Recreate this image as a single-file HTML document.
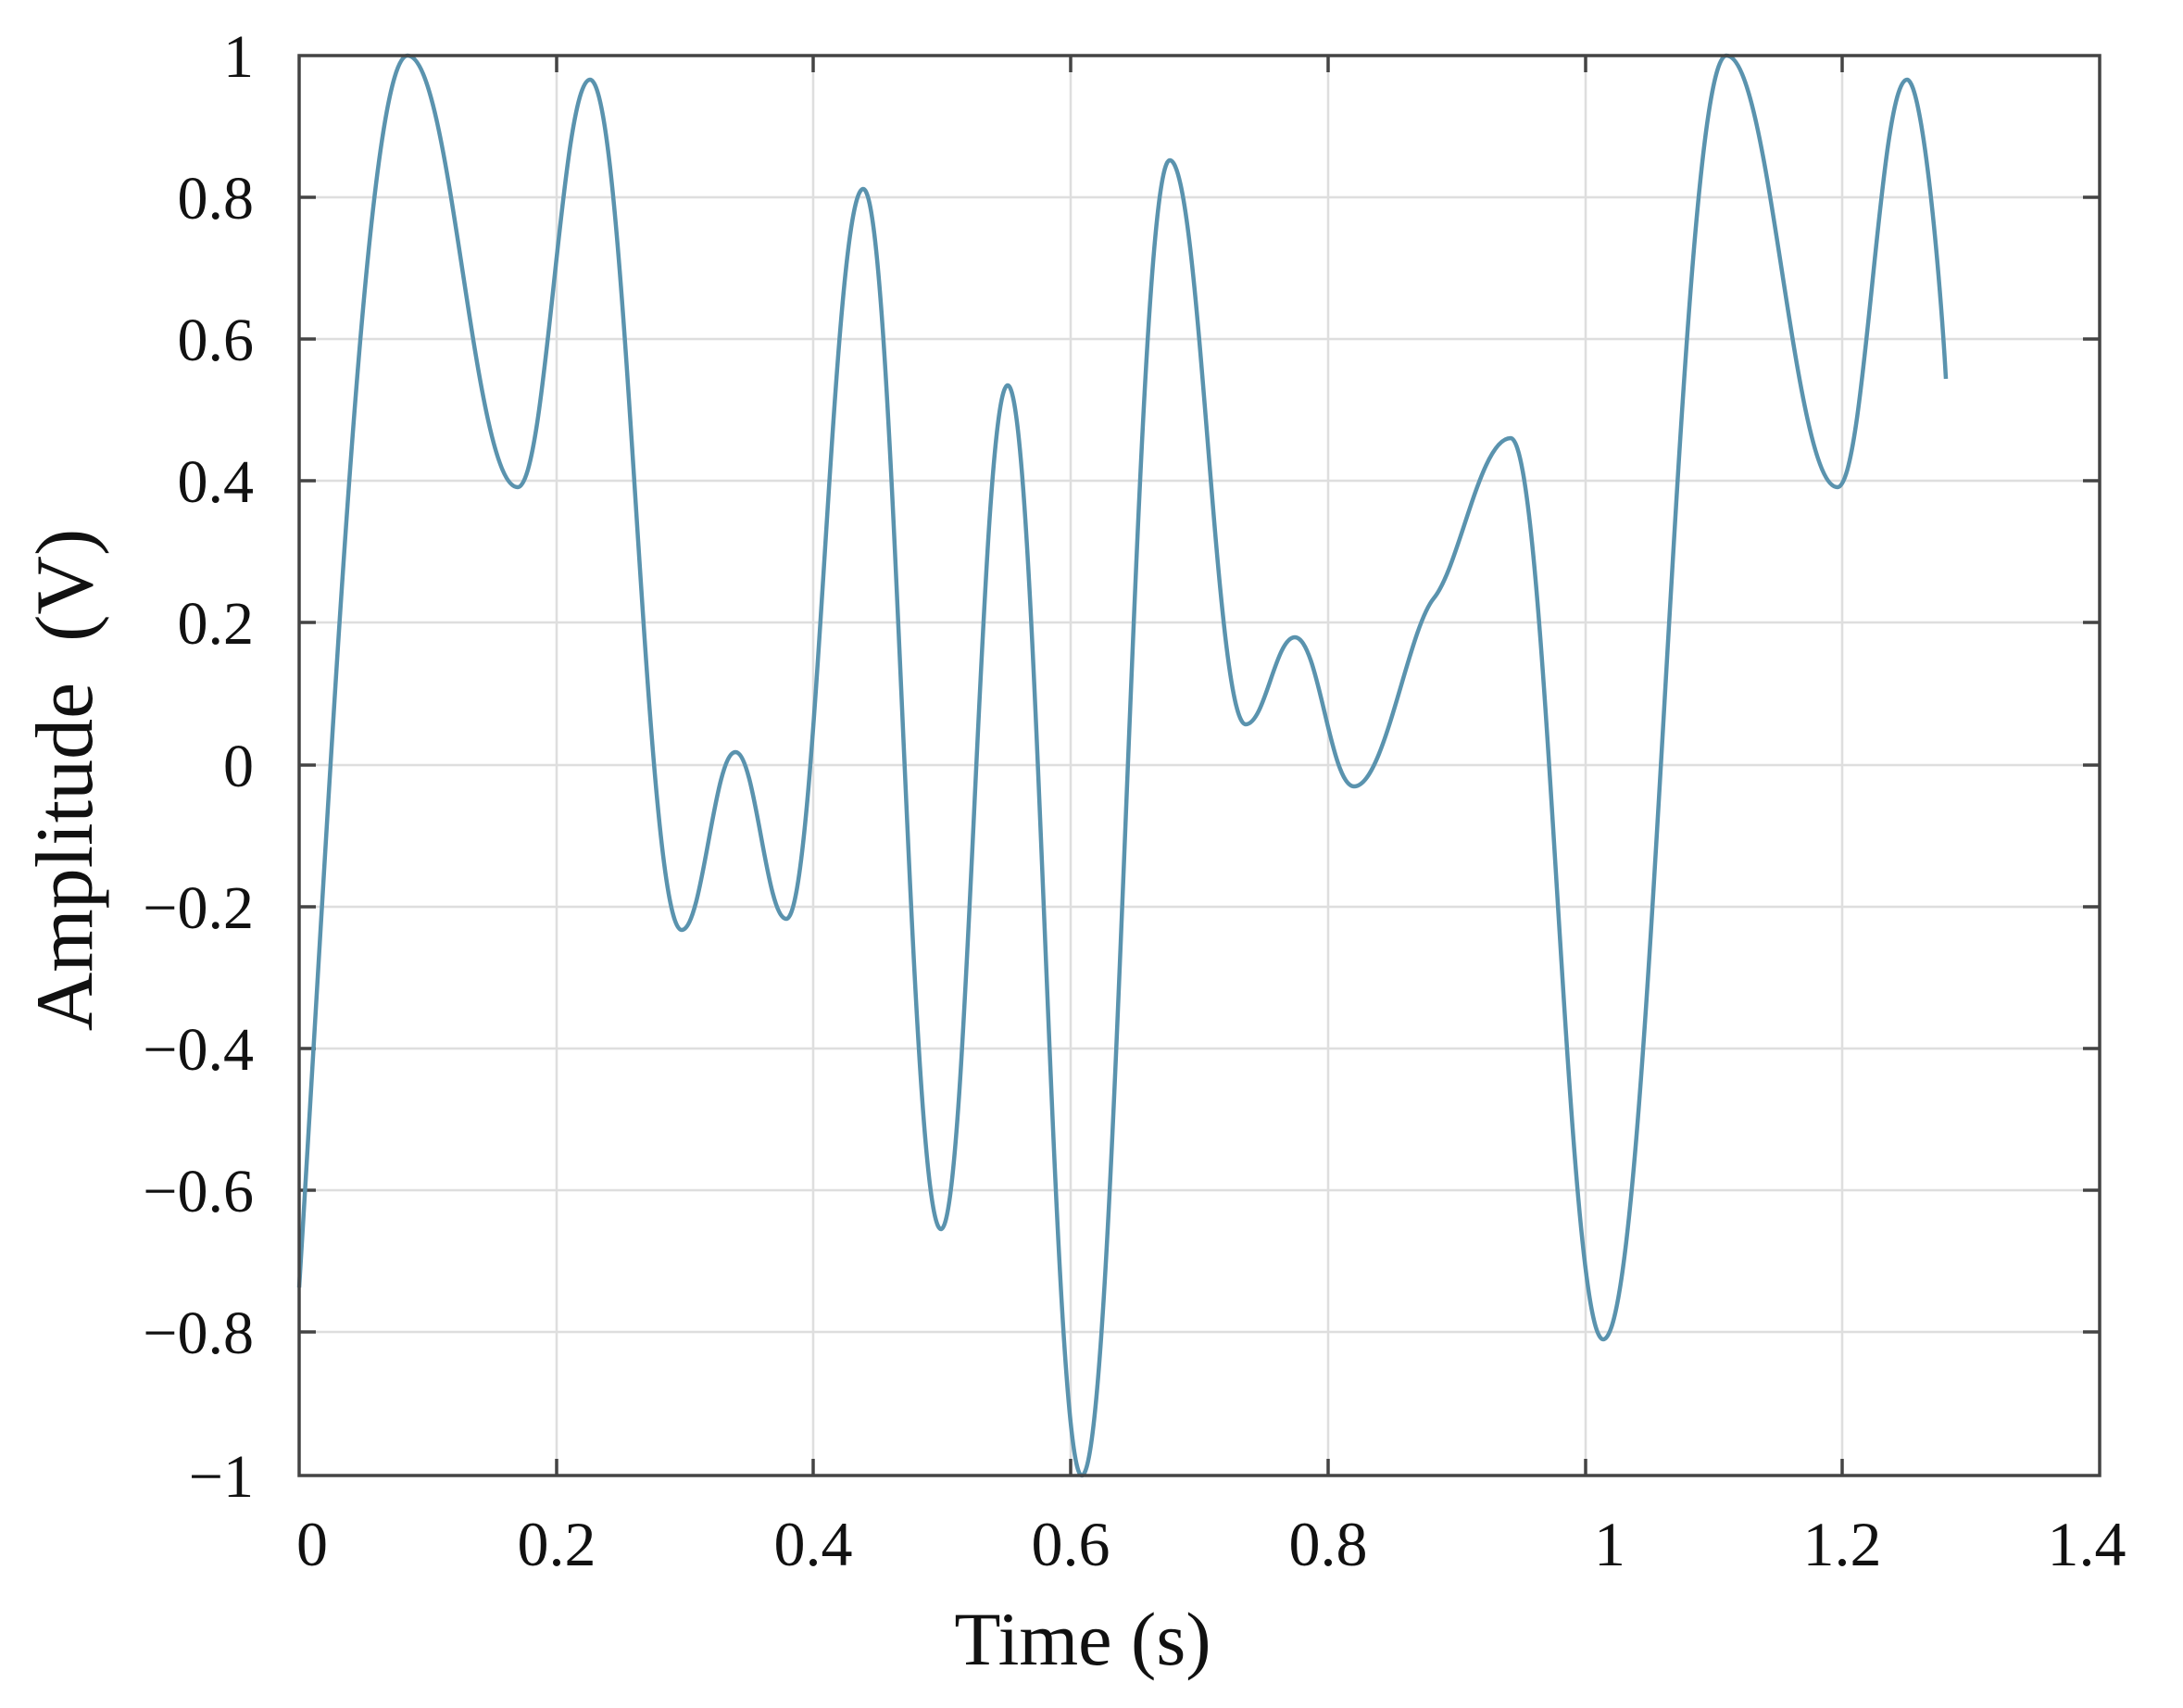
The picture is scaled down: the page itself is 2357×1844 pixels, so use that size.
<!DOCTYPE html>
<html><head><meta charset="utf-8"><style>
html,body{margin:0;padding:0;background:#fff;}
svg{display:block;}
text{font-family:"Liberation Serif",serif;fill:#111;}
</style></head><body>
<svg width="2357" height="1844" viewBox="0 0 2357 1844" xmlns="http://www.w3.org/2000/svg">
<g stroke="#dedede" stroke-width="2.5">
<line x1="601" y1="60" x2="601" y2="1593"/>
<line x1="878" y1="60" x2="878" y2="1593"/>
<line x1="1156" y1="60" x2="1156" y2="1593"/>
<line x1="1434" y1="60" x2="1434" y2="1593"/>
<line x1="1712" y1="60" x2="1712" y2="1593"/>
<line x1="1989" y1="60" x2="1989" y2="1593"/>
<line x1="323" y1="213" x2="2267" y2="213"/>
<line x1="323" y1="366" x2="2267" y2="366"/>
<line x1="323" y1="519" x2="2267" y2="519"/>
<line x1="323" y1="672" x2="2267" y2="672"/>
<line x1="323" y1="826" x2="2267" y2="826"/>
<line x1="323" y1="979" x2="2267" y2="979"/>
<line x1="323" y1="1132" x2="2267" y2="1132"/>
<line x1="323" y1="1285" x2="2267" y2="1285"/>
<line x1="323" y1="1438" x2="2267" y2="1438"/>
</g>
<g stroke="#444" stroke-width="3.5">
<path d="M601 1593v-18M878 1593v-18M1156 1593v-18M1434 1593v-18M1712 1593v-18M1989 1593v-18M601 60v18M878 60v18M1156 60v18M1434 60v18M1712 60v18M1989 60v18"/>
<path d="M323 213h18M323 366h18M323 519h18M323 672h18M323 826h18M323 979h18M323 1132h18M323 1285h18M323 1438h18M2267 213h-18M2267 366h-18M2267 519h-18M2267 672h-18M2267 826h-18M2267 979h-18M2267 1132h-18M2267 1285h-18M2267 1438h-18"/>
</g>
<path fill="none" stroke="#5a93ae" stroke-width="4.5" stroke-linejoin="round" d="M323 1390 C360 790 395 60 440 60 C488 60 511 526 559 526 C590 526 606 86 637 86 C677 86 696 1004 736 1004 C759 1004 771 812 794 812 C816 812 827 992 849 992 C882 992 899 204 932 204 C966 204 982 1327 1016 1327 C1045 1327 1059 416 1088 416 C1120 416 1136 1593 1168 1593 C1206 1593 1225 173 1263 173 C1296 173 1312 782 1345 782 C1366 782 1377 688 1398 688 C1424 688 1436 849 1462 849 C1495 849 1520 680 1548 646 C1576 612 1598 473 1631 473 C1671 473 1691 1446 1731 1446 C1784 1446 1811 60 1864 60 C1912 60 1936 526 1984 526 C2014 526 2029 86 2059 86 C2076 86 2095 300 2101 409"/>
<rect x="323" y="60" width="1944" height="1533" fill="none" stroke="#444" stroke-width="3.5"/>
<g font-size="66" text-anchor="end">
<text x="274" y="83">1</text>
<text x="274" y="236">0.8</text>
<text x="274" y="389">0.6</text>
<text x="274" y="542">0.4</text>
<text x="274" y="695">0.2</text>
<text x="274" y="849">0</text>
<text x="274" y="1002">−0.2</text>
<text x="274" y="1155">−0.4</text>
<text x="274" y="1308">−0.6</text>
<text x="274" y="1461">−0.8</text>
<text x="274" y="1616">−1</text>
</g>
<g font-size="68" text-anchor="middle">
<text x="337" y="1690">0</text>
<text x="601" y="1690">0.2</text>
<text x="878" y="1690">0.4</text>
<text x="1156" y="1690">0.6</text>
<text x="1434" y="1690">0.8</text>
<text x="1738" y="1690">1</text>
<text x="1989" y="1690">1.2</text>
<text x="2253" y="1690">1.4</text>
</g>
<text x="1169" y="1797" font-size="82" text-anchor="middle">Time (s)</text>
<text transform="translate(99,842) rotate(-90)" font-size="88" text-anchor="middle" xml:space="preserve">Amplitude  (V)</text>
</svg>
</body></html>
